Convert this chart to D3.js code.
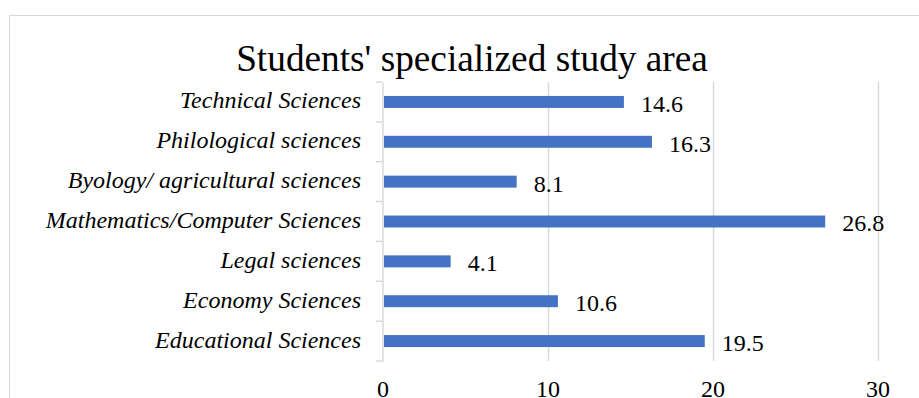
<!DOCTYPE html>
<html><head><meta charset="utf-8">
<script src="https://cdn.jsdelivr.net/npm/d3@7"></script>
<style>body{margin:0;background:#fff}svg{display:block}</style>
</head><body>
<svg id="c" width="919" height="398"></svg>
<script>
const title = "Students' specialized study area";
const categories = ["Technical Sciences","Philological sciences","Byology/ agricultural sciences","Mathematics/Computer Sciences","Legal sciences","Economy Sciences","Educational Sciences"];
const values = [14.6,16.3,8.1,26.8,4.1,10.6,19.5];
const xTicks = [0,10,20,30];

const svg = d3.select("#c");
const serif = "'Liberation Serif','Times New Roman',serif";
const grid = "#d9d9d9";

svg.append("rect").attr("x",9.5).attr("y",15.5).attr("width",930).attr("height",400)
  .attr("fill","#fff").attr("stroke",grid);

const x = d3.scaleLinear().domain([0,30]).range([383,878]);
const y = d3.scaleBand().domain(categories).range([82,361]).paddingInner(0.7).paddingOuter(0.35);

// gridlines
svg.append("g").selectAll("line").data(xTicks.filter(t=>t>0)).join("line")
  .attr("x1",d=>x(d)+0.5).attr("x2",d=>x(d)+0.5).attr("y1",82).attr("y2",361)
  .attr("stroke",grid).attr("stroke-width",1.5);

// y axis
const yAxis = d3.axisLeft(y).tickSize(0).tickFormat("");
const ga = svg.append("g").attr("transform",`translate(${x(0)-0.5},0)`).call(yAxis);
ga.select(".domain").attr("stroke",grid).attr("stroke-width",1.5);
const step = y.step();
const bounds = d3.range(categories.length+1).map(i=>82+i*step);
svg.append("g").selectAll("line").data(bounds).join("line")
  .attr("x1",x(0)-7).attr("x2",x(0)-0.5).attr("y1",d=>d).attr("y2",d=>d)
  .attr("stroke",grid).attr("stroke-width",1.5);

// category labels
svg.append("g").selectAll("text").data(categories).join("text")
  .attr("x",361).attr("y",d=>y(d)+y.bandwidth()/2).attr("dy","0.27em")
  .attr("text-anchor","end").attr("font-family",serif).attr("font-style","italic")
  .attr("font-size",24).attr("fill","#000").text(d=>d);

// bars
svg.append("g").selectAll("rect").data(values).join("rect")
  .attr("x",x(0)+1).attr("y",(d,i)=>y(categories[i]))
  .attr("width",d=>x(d)-x(0)-1).attr("height",y.bandwidth())
  .attr("fill","#4472c4");

// value labels
svg.append("g").selectAll("text").data(values).join("text")
  .attr("x",d=>x(d)+17).attr("y",(d,i)=>y(categories[i])+y.bandwidth()/2+1.5).attr("dy","0.35em")
  .attr("font-family",serif).attr("font-size",24).attr("fill","#000").text(d=>d.toFixed(1));

// x tick labels
svg.append("g").selectAll("text").data(xTicks).join("text")
  .attr("x",d=>x(d)).attr("y",397).attr("text-anchor","middle")
  .attr("font-family",serif).attr("font-size",24).attr("fill","#000").text(d=>d);

// title
svg.append("text").attr("x",472).attr("y",71).attr("text-anchor","middle")
  .attr("font-family",serif).attr("font-size",37.3).attr("fill","#000").text(title);
</script>
</body></html>
